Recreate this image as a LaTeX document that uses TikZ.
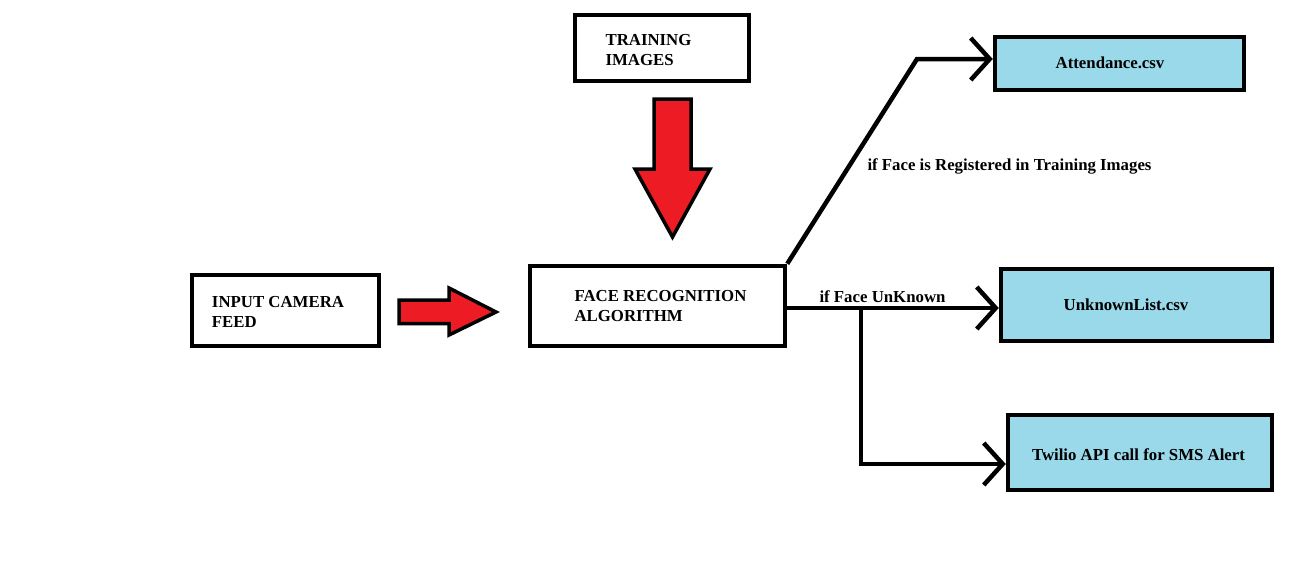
\documentclass[tikz,border=0pt]{standalone}
\usepackage{fontspec}
\setmainfont{Liberation Serif}
\usetikzlibrary{arrows.meta}
\definecolor{boxblue}{RGB}{153,217,234}
\definecolor{arrred}{RGB}{237,28,36}
\tikzset{
  box/.style={draw=black, line width=4.5pt, inner sep=0pt, rectangle},
  outbox/.style={box, fill=boxblue},
  lbl/.style={font=\bfseries\fontsize{16.8}{19.5}\selectfont, align=left, inner sep=0pt, text=black},
  conn/.style={draw=black, line width=4.5pt, line join=miter, -{Straight Barb[length=19pt,width=42pt]}},
  bigarrow/.style={draw=black, line width=3.5pt, fill=arrred, line join=miter}
}
\begin{document}
\begin{tikzpicture}[x=1pt,y=-1pt]
\useasboundingbox[fill=white] (0,0) rectangle (1315,560);

% boxes
\node[box, minimum width=174pt, minimum height=66pt] (train) at (662,48) {};
\node[box, minimum width=187pt, minimum height=71pt] (input) at (285.5,310.5) {};
\node[box, minimum width=255pt, minimum height=80pt] (face) at (657.5,306) {};
\node[outbox, minimum width=249pt, minimum height=53pt] (att) at (1119.5,63.5) {};
\node[outbox, minimum width=271pt, minimum height=72pt] (unk) at (1136.5,305) {};
\node[outbox, minimum width=264pt, minimum height=75pt] (twi) at (1140,452.5) {};

% texts
\node[lbl] (traint) at (648.5,50) {TRAINING\\IMAGES};
\node[lbl] (inputt) at (278,312) {INPUT CAMERA\\FEED};
\node[lbl] (facet) at (660.5,306) {FACE RECOGNITION\\ALGORITHM};
\node[lbl] (attt) at (1110,63) {Attendance.csv};
\node[lbl] (unkt) at (1126,305) {UnknownList.csv};
\node[lbl] (twit) at (1138.5,455) {Twilio API call for SMS Alert};

% red block arrows
\draw[bigarrow] (654,99) -- (691,99) -- (691,169) -- (710,169) -- (672.5,237) -- (635,169) -- (654,169) -- cycle;
\draw[bigarrow] (399,300) -- (449,300) -- (449,288) -- (496,312) -- (449,335) -- (449,323.5) -- (399,323.5) -- cycle;

% connectors
\coordinate (c1) at (917,59);
\coordinate (j) at (861,308);
\coordinate (k) at (861,464);
\draw[conn] (face.north east) -- (c1) -- (c1 -| att.west);
\draw[conn] (face.east |- j) -- (j -| unk.west);
\draw[conn] (j) -- (k) -- (k -| twi.west);

% connector labels
\node[lbl] (l1) at (1009.5,166) {if Face is Registered in Training Images};
\node[lbl] (l2) at (882.5,297) {if Face UnKnown};
\end{tikzpicture}
\end{document}
